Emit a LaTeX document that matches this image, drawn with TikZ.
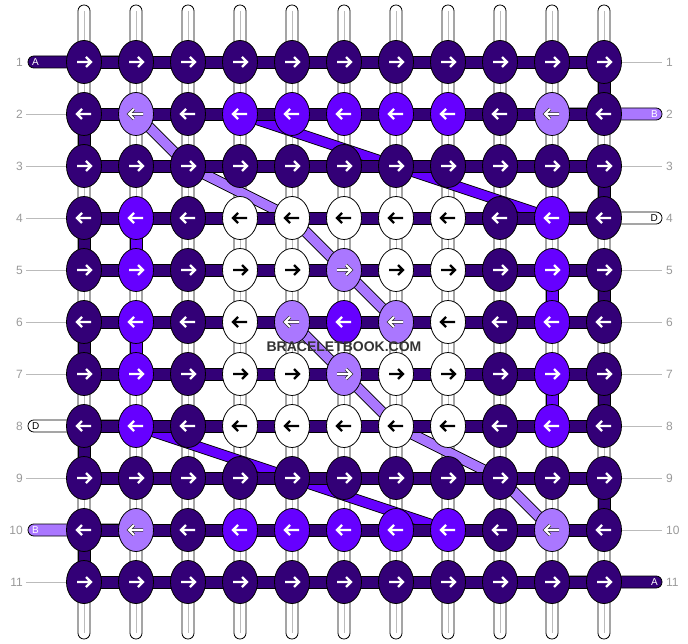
\documentclass[tikz,border=0pt]{standalone}
\usepackage{fontspec}
\setmainfont{Liberation Sans}
\usetikzlibrary{shapes.geometric}
\definecolor{colA}{HTML}{330077}
\definecolor{colB}{HTML}{AA77FF}
\definecolor{colC}{HTML}{6600FF}
\definecolor{colD}{HTML}{FFFFFF}
\definecolor{lblgray}{HTML}{999999}
\definecolor{linegray}{HTML}{BBBBBB}
\definecolor{wmark}{HTML}{333333}
\begin{document}
\begin{tikzpicture}[x=1pt,y=-1pt,
  knot/.style={ellipse,draw=black,line width=0.8pt,minimum width=35pt,minimum height=43pt,inner sep=0pt,outer sep=0pt},
  warp/.style={draw=black,fill=white,line width=0.8pt,rounded corners=5.9pt},
  warpline/.style={draw=linegray,line width=0.8pt},
  hbar/.style={draw=black,line width=0.8pt},
  bandout/.style={draw=black,line width=11pt,line join=round},
  bandin/.style={line width=9.2pt,line join=round},
  arrowA/.style={draw=white,line width=2.4pt},
  arrowC/.style={draw=white,line width=2.4pt},
  arrowD/.style={draw=black,line width=2.4pt},
  arrowB/.style={draw=white,line width=1.8pt,preaction={draw=wmark,line width=3.4pt}},
  rowlbl/.style={text=lblgray,font=\fontsize{12}{12}\selectfont,inner sep=0pt},
  leader/.style={draw=linegray,line width=0.8pt},
  extlbl/.style={font=\fontsize{10}{10}\selectfont,inner sep=0pt}
]
\useasboundingbox (0,0) rectangle (688,644);
% grid coordinates
\foreach \r in {1,...,11}{
  \foreach \c in {1,...,11}{
    \coordinate (p-\r-\c) at ({84+52*(\c-1)},{62+52*(\r-1)});
  }
}
% vertical warp strands
\foreach \c in {1,...,11}{
  \coordinate (wt-\c) at ({84+52*(\c-1)},5);
  \coordinate (wb-\c) at ({84+52*(\c-1)},639);
  \draw[warp] ([xshift=-6pt]wt-\c) rectangle ([xshift=6pt]wb-\c);
  \draw[warpline] ([yshift=-6pt]wt-\c) -- ([yshift=6pt]wb-\c);
}
% diagonal carried threads
\draw[bandout] (p-2-2) -- (p-3-3) -- (p-4-5) -- (p-5-6) -- (p-6-7);
\draw[bandin,colB] (p-2-2) -- (p-3-3) -- (p-4-5) -- (p-5-6) -- (p-6-7);
\draw[bandout] (p-6-5) -- (p-7-6) -- (p-8-7) -- (p-9-9) -- (p-10-10);
\draw[bandin,colB] (p-6-5) -- (p-7-6) -- (p-8-7) -- (p-9-9) -- (p-10-10);
\draw[bandout] (p-2-4) -- (p-4-10);
\draw[bandin,colC] (p-2-4) -- (p-4-10);
\draw[bandout] (p-8-2) -- (p-10-8);
\draw[bandin,colC] (p-8-2) -- (p-10-8);
% strand ends outside the grid
\coordinate (eL-1) at (28,62);
\coordinate (eR-2) at (662,114);
\coordinate (eR-4) at (662,218);
\coordinate (eL-8) at (28,426);
\coordinate (eL-10) at (28,530);
\coordinate (eR-11) at (662,582);
\draw[hbar,fill=colA,rounded corners=5.9pt] ([yshift=6pt]eL-1) rectangle ([yshift=-6pt]p-1-2);
\draw[hbar,fill=colD,rounded corners=5.9pt] ([yshift=6pt]eL-8) rectangle ([yshift=-6pt]p-8-2);
\draw[hbar,fill=colB,rounded corners=5.9pt] ([yshift=6pt]eL-10) rectangle ([yshift=-6pt]p-10-2);
\draw[hbar,fill=colB,rounded corners=5.9pt] ([yshift=6pt]p-2-10) rectangle ([yshift=-6pt]eR-2);
\draw[hbar,fill=colD,rounded corners=5.9pt] ([yshift=6pt]p-4-10) rectangle ([yshift=-6pt]eR-4);
\draw[hbar,fill=colA,rounded corners=5.9pt] ([yshift=6pt]p-11-10) rectangle ([yshift=-6pt]eR-11);
% horizontal working rows
\foreach \r in {1,...,11}{
  \draw[hbar,fill=colA] ([yshift=6pt]p-\r-1) rectangle ([yshift=-6pt]p-\r-11);
}
% vertical turns of the working thread
\foreach \a/\b in {1/2,3/4,5/6,7/8,9/10}{
  \draw[hbar,fill=colA] ([xshift=-6pt]p-\a-11) rectangle ([xshift=6pt]p-\b-11);
}
\foreach \a/\b in {2/3,4/5,6/7,8/9,10/11}{
  \draw[hbar,fill=colA] ([xshift=-6pt]p-\a-1) rectangle ([xshift=6pt]p-\b-1);
}
% carried colour C going down the side columns
\draw[hbar,fill=colC] ([xshift=-6pt]p-4-2) rectangle ([xshift=6pt]p-5-2);
\draw[hbar,fill=colC] ([xshift=-6pt]p-6-2) rectangle ([xshift=6pt]p-7-2);
\draw[hbar,fill=colC] ([xshift=-6pt]p-5-10) rectangle ([xshift=6pt]p-6-10);
\draw[hbar,fill=colC] ([xshift=-6pt]p-7-10) rectangle ([xshift=6pt]p-8-10);
% leader lines and row numbers
\foreach \r in {2,3,4,5,6,7,9,11}{
  \draw[leader] ({26},{62+52*(\r-1)}) -- ({66},{62+52*(\r-1)});
}
\foreach \r in {1,3,5,6,7,8,9,10}{
  \draw[leader] ({622},{62+52*(\r-1)}) -- ({662},{62+52*(\r-1)});
}
\foreach \r in {1,...,11}{
  \node[rowlbl,anchor=east] (nl-\r) at ({23},{62+52*(\r-1)}) {\r};
  \node[rowlbl,anchor=west] (nr-\r) at ({666},{62+52*(\r-1)}) {\r};
}
\node[extlbl,text=white,anchor=west] (tA1) at (32,62) {A};
\node[extlbl,text=black,anchor=west] (tD8) at (32,426) {D};
\node[extlbl,text=white,anchor=west] (tB10) at (32,530) {B};
\node[extlbl,text=white,anchor=east] (tB2) at (658,114) {B};
\node[extlbl,text=black,anchor=east] (tD4) at (658,218) {D};
\node[extlbl,text=white,anchor=east] (tA11) at (658,582) {A};
% knots
\foreach \r/\lst in {
  1/{A,A,A,A,A,A,A,A,A,A,A},
  2/{A,B,A,C,C,C,C,C,A,B,A},
  3/{A,A,A,A,A,A,A,A,A,A,A},
  4/{A,C,A,D,D,D,D,D,A,C,A},
  5/{A,C,A,D,D,B,D,D,A,C,A},
  6/{A,C,A,D,B,C,B,D,A,C,A},
  7/{A,C,A,D,D,B,D,D,A,C,A},
  8/{A,C,A,D,D,D,D,D,A,C,A},
  9/{A,A,A,A,A,A,A,A,A,A,A},
  10/{A,B,A,C,C,C,C,C,A,B,A},
  11/{A,A,A,A,A,A,A,A,A,A,A}}{
  \pgfmathsetmacro\dir{ifthenelse(mod(\r,2)==1,1,-1)}
  \foreach \k [count=\c] in \lst {
    \node[knot,fill=col\k] (k-\r-\c) at (p-\r-\c) {};
    \begin{scope}[shift={(k-\r-\c.center)},xscale=\dir]
      \draw[arrow\k,line join=miter] (-7,0) -- (6.5,0) (2,-5) -- (7,0) -- (2,5);
    \end{scope}
  }
}
% watermark
\node[font=\bfseries\fontsize{14}{15}\selectfont,text=wmark,inner sep=0pt] (wm) at (344,347) {BRACELETBOOK.COM};
\end{tikzpicture}
\end{document}
